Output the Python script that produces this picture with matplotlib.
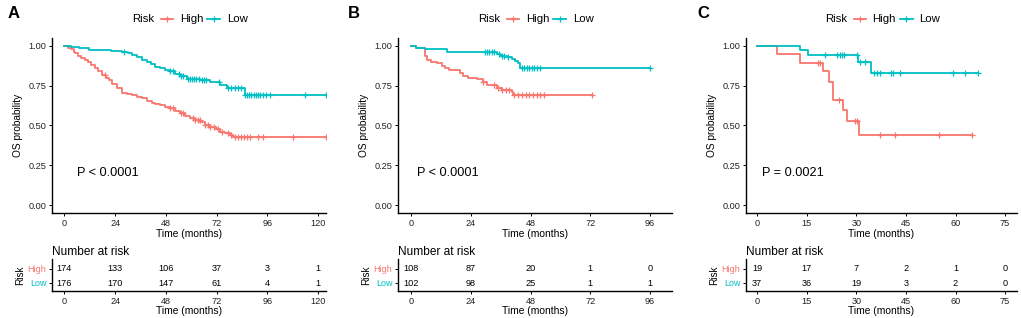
import numpy as np
import matplotlib
matplotlib.use("Agg")
import matplotlib.pyplot as plt
from matplotlib.lines import Line2D

plt.rcParams['font.family'] = ['Liberation Sans', 'DejaVu Sans']

RED = '#F8766D'
TEAL = '#00BFC4'

# ---- panel A (survival steps) ----
A_high_t = [0, 1.5, 3, 4.5, 5.2, 6.5, 8, 9.9, 11, 12.5, 14.6, 16, 17.8, 19.5, 20.9, 22.5, 24.9,
            27.2, 29.5, 32, 34.5, 36.7, 39, 41.4, 43, 45.3, 47.5, 50, 52.5, 54.8, 57, 59.5,
            62, 64.2, 66.5, 69, 71.5, 73.7, 76, 78.4, 80]
A_high_s = [1, 0.99, 0.98, 0.965, 0.954, 0.94, 0.925, 0.912, 0.897, 0.88, 0.86, 0.84, 0.818,
            0.80, 0.786, 0.76, 0.734, 0.703, 0.698, 0.692, 0.682, 0.671, 0.655, 0.64, 0.635,
            0.629, 0.618, 0.608, 0.592, 0.577, 0.56, 0.545, 0.532, 0.52, 0.505, 0.493, 0.477,
            0.461, 0.45, 0.44, 0.426]
A_high_cens = [19.4, 50, 51.5, 55, 56, 61, 62, 63, 64, 66.6, 68, 69, 71, 72.5, 74.5, 77.5, 79,
               80.5, 82, 83.5, 85, 86.5, 88, 91.8, 94.1, 108, 123.8]
A_low_t = [0, 3, 7, 11.5, 16, 22, 27.2, 30, 32, 34.5, 36.7, 39, 41, 43, 45.3, 47.5, 50, 52.5,
           54.8, 58, 64.2, 69, 73.7, 76.9, 85.5]
A_low_s = [1, 0.995, 0.985, 0.975, 0.972, 0.968, 0.964, 0.955, 0.943, 0.928, 0.912, 0.898,
           0.885, 0.87, 0.86, 0.85, 0.84, 0.826, 0.813, 0.792, 0.786, 0.776, 0.755, 0.734, 0.692]
A_low_cens = [28, 50, 51.5, 54, 55, 56, 58.5, 59.5, 60.5, 61.5, 62.5, 63.5, 65, 66, 67, 73,
              77.5, 79, 80.5, 82, 83.5, 85.5, 86.5, 87.5, 88.5, 89.5, 90.5, 91.5, 92.5, 94,
              95.5, 97.3, 113.8, 123.8]
A_breaks = [0, 24, 48, 72, 96, 120]
A_risk_high = [174, 133, 106, 37, 3, 1]
A_risk_low = [176, 170, 147, 61, 4, 1]

# ---- panel B ----
B_high_t = [0, 2, 5.6, 6.3, 7.9, 10.3, 12.3, 13.7, 15.4, 19.7, 21, 23, 26.4, 29, 30.7, 34.4,
            36.4, 40.4, 41.1]
B_high_s = [1, 0.99, 0.94, 0.912, 0.90, 0.89, 0.876, 0.86, 0.849, 0.828, 0.813, 0.80, 0.79,
            0.775, 0.755, 0.738, 0.723, 0.709, 0.692]
B_high_cens = [29, 33.5, 35, 36.5, 38, 39.5, 41.5, 43, 44.5, 46, 47.5, 49, 50.5, 52, 53.5, 72.6]
B_low_t = [0, 2, 5.6, 14.3, 34.4, 35.7, 38.4, 40.4, 41.8, 43.1, 43.8]
B_low_s = [1, 0.99, 0.981, 0.96, 0.948, 0.94, 0.93, 0.92, 0.905, 0.89, 0.864]
B_low_cens = [29.7, 30.5, 31.5, 32.5, 33.5, 35.4, 36.5, 37.5, 39, 44.4, 45.5, 46.5, 47.5, 48.5,
              49.5, 50.5, 51.8, 96]
B_breaks = [0, 24, 48, 72, 96]
B_risk_high = [108, 87, 20, 1, 0]
B_risk_low = [102, 98, 25, 1, 1]

# ---- panel C ----
C_high_t = [0, 5.9, 13, 19.9, 21.6, 22.9, 26.1, 27.3, 30.9]
C_high_s = [1, 0.947, 0.895, 0.84, 0.776, 0.66, 0.597, 0.528, 0.44]
C_high_cens = [18.4, 19.1, 24.6, 29.6, 30.3, 37.2, 41.7, 55, 64.9]
C_low_t = [0, 12.8, 15.5, 30.6, 34.4]
C_low_s = [1, 0.973, 0.946, 0.90, 0.828]
C_low_cens = [20.6, 24.1, 25.1, 25.6, 26.3, 30.1, 31.1, 32.7, 35.2, 36.2, 37, 40.4, 41, 43.2,
              59.2, 62.9, 66.9]
C_breaks = [0, 15, 30, 45, 60, 75]
C_risk_high = [19, 17, 7, 2, 1, 0]
C_risk_low = [37, 36, 19, 3, 2, 0]

W, H = 1021, 318
fig = plt.figure(figsize=(W / 100, H / 100), dpi=100)


def px_axes(l, t, r, b):
    return fig.add_axes([l / W, 1 - b / H, (r - l) / W, (b - t) / H])


def style(ax):
    for s in ['top', 'right']:
        ax.spines[s].set_visible(False)
    for s in ['left', 'bottom']:
        ax.spines[s].set_linewidth(1.0)
    ax.tick_params(length=2.5, width=0.7, labelsize=6.6, pad=1.5, labelcolor='#222222')


def km(ax, t, s, cens, color):
    end = max(max(cens), t[-1])
    xs = list(t) + [end]
    ys = list(s) + [s[-1]]
    ax.step(xs, ys, where='post', color=color, lw=1.3)
    idx = np.searchsorted(t, cens, side='right') - 1
    cy = np.array(s)[idx]
    ax.plot(cens, cy, '+', color=color, ms=4.5, mew=0.9, ls='none')


panels = [
    ('A', 52, 326, (-5.9, 123.8), A_high_t, A_high_s, A_high_cens, A_low_t, A_low_s, A_low_cens,
     A_breaks, A_risk_high, A_risk_low, 'P < 0.0001', 6.1),
    ('B', 398, 672, (-5.2, 104.8), B_high_t, B_high_s, B_high_cens, B_low_t, B_low_s, B_low_cens,
     B_breaks, B_risk_high, B_risk_low, 'P < 0.0001', 2.3),
    ('C', 746, 1017, (-3.4, 78.6), C_high_t, C_high_s, C_high_cens, C_low_t, C_low_s, C_low_cens,
     C_breaks, C_risk_high, C_risk_low, 'P = 0.0021', 1.5),
]

letter_x = [8, 348, 697]

for k, (lab, l, r, xl, ht, hs, hc, lt, ls_, lc, brk, rh, rl, ptxt, px) in enumerate(panels):
    ax = px_axes(l, 38, r, 213)
    style(ax)
    km(ax, ht, hs, hc, RED)
    km(ax, lt, ls_, lc, TEAL)
    ax.set_xlim(*xl)
    ax.set_ylim(-0.05, 1.05)
    ax.set_xticks(brk)
    ax.set_yticks([0, 0.25, 0.5, 0.75, 1.0])
    ax.set_yticklabels(['0.00', '0.25', '0.50', '0.75', '1.00'])
    ax.set_xlabel('Time (months)', fontsize=7.4, labelpad=1)
    ax.set_ylabel('OS probability', fontsize=7.3, labelpad=4)
    ax.text(px, 0.2, ptxt, fontsize=9.2, ha='left', va='center')

    # legend on top
    cx = (l + r) / 2
    yy = 1 - 19 / H
    fig.text((cx - 45.5) / W, yy, 'Risk', fontsize=8.2, ha='center', va='center')
    for x0, x1, col, name in [(cx - 28, cx - 16, RED, 'High'), (cx + 18, cx + 31, TEAL, 'Low')]:
        fig.add_artist(Line2D([x0 / W, x1 / W], [yy, yy], color=col, lw=1.3,
                              transform=fig.transFigure))
        fig.add_artist(Line2D([(x0 + x1) / 2 / W], [yy], color=col, marker='+', ms=4.5, mew=0.9,
                              transform=fig.transFigure))
        fig.text((x1 + 7) / W, yy, name, fontsize=8.2, ha='left', va='center')

    fig.text(letter_x[k] / W, 1 - 14 / H, lab, fontsize=12, fontweight='bold', ha='left', va='center')

    # risk table
    tb = px_axes(l, 259, r, 291)
    style(tb)
    tb.set_xlim(*xl)
    tb.set_ylim(0.43, 2.71)
    tb.set_xticks(brk)
    tb.set_yticks([2, 1])
    tb.set_yticklabels(['High', 'Low'], fontsize=6.5)
    for tl, col in zip(tb.get_yticklabels(), [RED, TEAL]):
        tl.set_color(col)
    for x, nh, nl in zip(brk, rh, rl):
        tb.text(x, 2, str(nh), fontsize=6.6, ha='center', va='center')
        tb.text(x, 1, str(nl), fontsize=6.6, ha='center', va='center')
    tb.set_xlabel('Time (months)', fontsize=7.4, labelpad=0)
    tb.set_ylabel('Risk', fontsize=7.2, labelpad=2)
    tb.set_title('Number at risk', fontsize=8.6, loc='left', pad=3)

fig.savefig('out.png', dpi=100)
